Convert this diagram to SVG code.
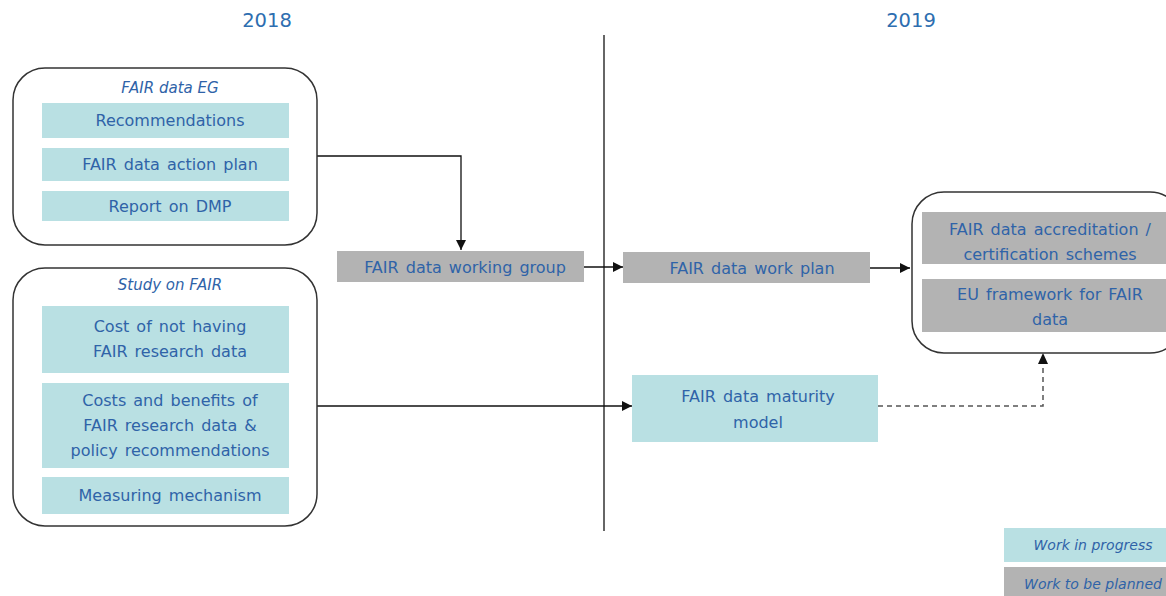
<svg xmlns="http://www.w3.org/2000/svg" width="1166" height="596" viewBox="0 0 1166 596">
<style>
.t{font-family:"DejaVu Sans",Verdana,sans-serif;font-size:16px;word-spacing:2px;fill:#2f63a8;text-anchor:middle}
.ti{font-family:"DejaVu Sans",Verdana,sans-serif;font-size:15px;font-style:italic;fill:#2f63a8;text-anchor:middle}
.yr{font-family:"DejaVu Sans",Verdana,sans-serif;font-size:19.5px;fill:#2e6eb0;text-anchor:middle}
.lg{font-family:"DejaVu Sans",Verdana,sans-serif;font-size:14px;font-style:italic;fill:#2f63a8;text-anchor:middle}
.grp{fill:#fff;stroke:#333;stroke-width:1.5}
.wip{fill:#b9e0e3}
.plan{fill:#b3b3b3}
.c{fill:none;stroke:#111;stroke-width:1.3}
.d{fill:none;stroke:#555;stroke-width:1.5;stroke-dasharray:5,4}
</style>
<defs>
<marker id="ah" viewBox="0 0 10 10" refX="10" refY="5" markerWidth="10" markerHeight="10" markerUnits="userSpaceOnUse" orient="auto">
<path d="M0,0 L10,5 L0,10 z" fill="#111"/>
</marker>
</defs>
<rect width="1166" height="596" fill="#fff"/>
<text class="yr" x="267" y="27">2018</text>
<text class="yr" x="911" y="27">2019</text>
<line x1="604" y1="35" x2="604" y2="531" stroke="#333" stroke-width="1.5"/>

<g id="connectors">
<path class="c" d="M317,156 H461 V250" marker-end="url(#ah)"/>
<path class="c" d="M584,267 H623" marker-end="url(#ah)"/>
<path class="c" d="M870,268 H910" marker-end="url(#ah)"/>
<path class="c" d="M317,406 H632" marker-end="url(#ah)"/>
<path class="d" d="M878,406 H1043 V356"/>
<path d="M1038,364 L1043,353 L1048,364 z" fill="#111"/>
</g>

<g id="fair-data-eg">
<rect class="grp" x="13" y="68" width="304" height="177" rx="32"/>
<text class="ti" x="170" y="93">FAIR data EG</text>
<rect class="wip" x="42" y="103" width="247" height="35"/>
<text class="t" x="170" y="126">Recommendations</text>
<rect class="wip" x="42" y="148" width="247" height="33"/>
<text class="t" x="170" y="170">FAIR data action plan</text>
<rect class="wip" x="42" y="191" width="247" height="30"/>
<text class="t" x="170" y="212">Report on DMP</text>
</g>

<g id="study-on-fair">
<rect class="grp" x="13" y="268" width="304" height="258" rx="32"/>
<text class="ti" x="170" y="290">Study on FAIR</text>
<rect class="wip" x="42" y="306" width="247" height="67"/>
<text class="t" x="170" y="332">Cost of not having</text>
<text class="t" x="170" y="357">FAIR research data</text>
<rect class="wip" x="42" y="383" width="247" height="85"/>
<text class="t" x="170" y="406">Costs and benefits of</text>
<text class="t" x="170" y="431">FAIR research data &amp;</text>
<text class="t" x="170" y="456">policy recommendations</text>
<rect class="wip" x="42" y="477" width="247" height="37"/>
<text class="t" x="170" y="501">Measuring mechanism</text>
</g>

<g id="working-group">
<rect class="plan" x="337" y="251" width="247" height="31"/>
<text class="t" x="465" y="273">FAIR data working group</text>
</g>

<g id="work-plan">
<rect class="plan" x="623" y="252" width="247" height="31"/>
<text class="t" x="752" y="274">FAIR data work plan</text>
</g>

<g id="maturity-model">
<rect class="wip" x="632" y="375" width="246" height="67"/>
<text class="t" x="758" y="402">FAIR data maturity</text>
<text class="t" x="758" y="428">model</text>
</g>

<g id="outcomes">
<rect class="grp" x="912" y="192" width="270" height="161" rx="32"/>
<rect class="plan" x="922" y="212" width="244" height="52"/>
<text class="t" x="1050" y="235">FAIR data accreditation /</text>
<text class="t" x="1050" y="260">certification schemes</text>
<rect class="plan" x="922" y="279" width="244" height="53"/>
<text class="t" x="1050" y="300">EU framework  for FAIR</text>
<text class="t" x="1050" y="325">data</text>
</g>

<g id="legend">
<rect class="wip" x="1004" y="528" width="162" height="34"/>
<text class="lg" x="1093" y="550">Work in progress</text>
<rect class="plan" x="1004" y="567" width="162" height="29"/>
<text class="lg" x="1093" y="589">Work to be planned</text>
</g>
</svg>
